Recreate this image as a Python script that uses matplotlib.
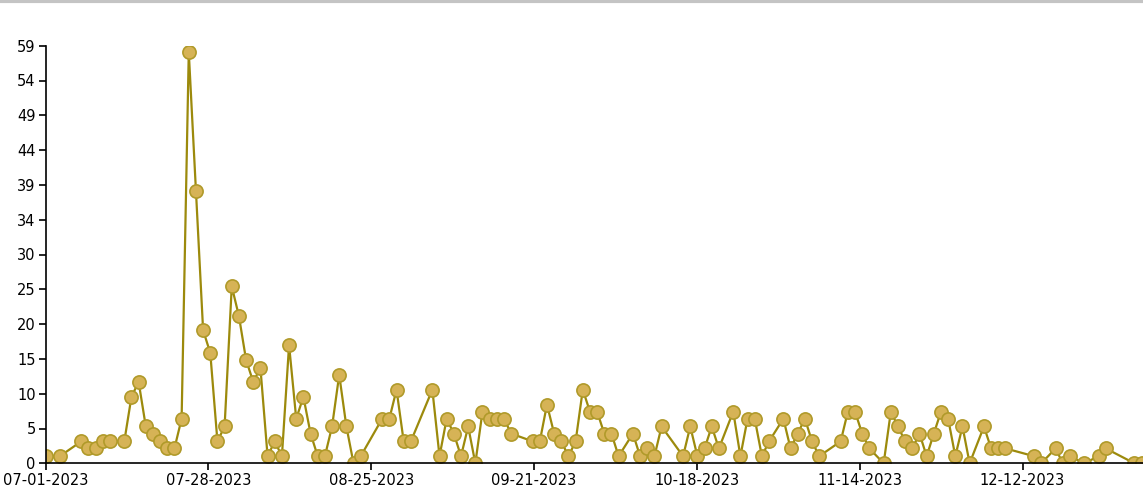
import numpy as np
import matplotlib.pyplot as plt
from matplotlib.lines import Line2D

# vị trí (ngày thứ mấy kể từ 07-01) và giá trị
day_idx = [0, 2, 5, 6, 7, 8, 9, 11, 12, 13, 14, 15, 16, 17, 18, 19, 20, 21, 22, 23,
           24, 25, 26, 27, 28, 29, 30, 31, 32, 33, 34, 35, 36, 37, 38, 39, 40, 41, 42, 43,
           44, 47, 48, 49, 50, 51, 54, 55, 56, 57, 58, 59, 60, 61, 62, 63, 64, 65, 68, 69,
           70, 71, 72, 73, 74, 75, 76, 77, 78, 79, 80, 82, 83, 84, 85, 86, 89, 90, 91, 92,
           93, 94, 96, 97, 98, 99, 100, 101, 103, 104, 105, 106, 107, 108, 111, 112, 113, 114, 115, 117,
           118, 119, 120, 121, 122, 123, 124, 125, 126, 127, 128, 129, 131, 132, 133, 134, 138, 139, 141, 142,
           143, 145, 147, 148, 152, 153]
values = [1.0, 1.0, 3.1, 2.1, 2.1, 3.1, 3.1, 3.1, 9.4, 11.5, 5.2, 4.2, 3.1, 2.1, 2.1, 6.3, 58.1, 38.5, 18.8, 15.6,
          3.1, 5.2, 25.0, 20.8, 14.6, 11.5, 13.5, 1.0, 3.1, 1.0, 16.7, 6.3, 9.4, 4.2, 1.0, 1.0, 5.2, 12.5, 5.2, 0.0,
          1.0, 6.3, 6.3, 10.4, 3.1, 3.1, 10.4, 1.0, 6.3, 4.2, 1.0, 5.2, 0.0, 7.3, 6.3, 6.3, 6.3, 4.2, 3.1, 3.1,
          8.3, 4.2, 3.1, 1.0, 3.1, 10.4, 7.3, 7.3, 4.2, 4.2, 1.0, 4.2, 1.0, 2.1, 1.0, 5.2, 1.0, 5.2, 1.0, 2.1,
          5.2, 2.1, 7.3, 1.0, 6.3, 6.3, 1.0, 3.1, 6.3, 2.1, 4.2, 6.3, 3.1, 1.0, 3.1, 7.3, 7.3, 4.2, 2.1, 0.0,
          7.3, 5.2, 3.1, 2.1, 4.2, 1.0, 4.2, 7.3, 6.3, 1.0, 5.2, 0.0, 5.2, 2.1, 2.1, 2.1, 1.0, 0.0, 2.1, 0.0,
          1.0, 0.0, 1.0, 2.1, 0.0, 0.0]

x_labels = ["07-01-2023", "07-28-2023", "08-25-2023", "09-21-2023",
            "10-18-2023", "11-14-2023", "12-12-2023"]
y_labels = ["0", "5", "10", "15", "20", "25", "30", "34", "39", "44", "49", "54", "59"]

fig = plt.figure(figsize=(11.43, 4.91), dpi=100)
ax = fig.add_axes([45.5 / 1143, 27.7 / 491, 1097.5 / 1143, 417.6 / 491])

ax.plot(day_idx, values, color="#9c8a0c", linewidth=1.6, marker="o", markersize=9.5,
        markerfacecolor="#d6b356", markeredgecolor="#b09a2a", markeredgewidth=1.2)

ax.set_xlim(0, 153.2)
ax.set_ylim(0, 59)
ax.set_xticks(np.arange(len(x_labels)) * 22.73)
ax.set_xticklabels(x_labels)
ax.set_yticks(np.linspace(0, 59, len(y_labels)))
ax.set_yticklabels(y_labels)

for side in ["top", "right"]:
    ax.spines[side].set_visible(False)
for side in ["left", "bottom"]:
    ax.spines[side].set_color("black")
    ax.spines[side].set_linewidth(1.2)
ax.tick_params(axis="both", length=5, width=1.2, colors="black", labelsize=10.5, pad=2)

# vạch xám ở mép trên
fig.add_artist(Line2D([0, 1], [0.997, 0.997], color="#c4c4c4", linewidth=3, transform=fig.transFigure))

fig.savefig("out.png", dpi=100)
